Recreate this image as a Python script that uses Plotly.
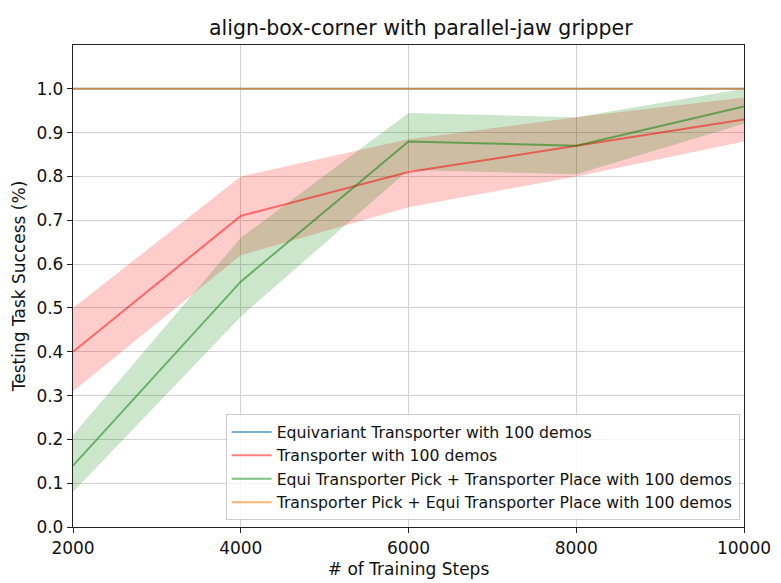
import plotly.graph_objects as go

steps = [2000, 4000, 6000, 8000, 10000]

equi_mean = [1.0, 1.0, 1.0, 1.0, 1.0]
equi_lo = [1.0, 1.0, 1.0, 1.0, 1.0]
equi_hi = [1.0, 1.0, 1.0, 1.0, 1.0]

trans_mean = [0.40, 0.71, 0.81, 0.87, 0.93]
trans_lo = [0.31, 0.62, 0.73, 0.80, 0.88]
trans_hi = [0.50, 0.80, 0.885, 0.935, 0.98]

epick_mean = [0.14, 0.56, 0.88, 0.87, 0.96]
epick_lo = [0.08, 0.48, 0.815, 0.805, 0.92]
epick_hi = [0.21, 0.66, 0.945, 0.935, 1.0]

eplace_mean = [1.0, 1.0, 1.0, 1.0, 1.0]
eplace_lo = [1.0, 1.0, 1.0, 1.0, 1.0]
eplace_hi = [1.0, 1.0, 1.0, 1.0, 1.0]

series = [
    ("Equivariant Transporter with 100 demos", equi_mean, equi_lo, equi_hi,
     "rgba(31,119,180,0.6)", "rgba(31,119,180,0.2)"),
    ("Transporter with 100 demos", trans_mean, trans_lo, trans_hi,
     "rgba(255,0,0,0.5)", "rgba(255,0,0,0.2)"),
    ("Equi Transporter Pick + Transporter Place with 100 demos", epick_mean, epick_lo, epick_hi,
     "rgba(0,128,0,0.5)", "rgba(0,128,0,0.2)"),
    ("Transporter Pick + Equi Transporter Place with 100 demos", eplace_mean, eplace_lo, eplace_hi,
     "rgba(255,127,14,0.6)", "rgba(255,127,14,0.2)"),
]

fig = go.Figure()
for name, m, lo, hi, lc, fc in series:
    fig.add_trace(go.Scatter(x=steps + steps[::-1], y=hi + lo[::-1], fill="toself",
                             fillcolor=fc, line=dict(width=0), mode="lines",
                             showlegend=False, hoverinfo="skip"))
for name, m, lo, hi, lc, fc in series:
    fig.add_trace(go.Scatter(x=steps, y=m, mode="lines", name=name,
                             line=dict(color=lc, width=2)))

font = "DejaVu Sans"
fig.update_layout(
    width=781, height=583,
    margin=dict(l=65, r=45, t=37, b=64),
    paper_bgcolor="white", plot_bgcolor="white",
    font=dict(family=font, size=17, color="#111"),
    title=dict(text="align-box-corner with parallel-jaw gripper", x=0.5285, xanchor="center",
               y=0.966, yanchor="middle", font=dict(family=font, size=20.5, color="#111")),
    legend=dict(x=0.9935, y=0.014, xanchor="right", yanchor="bottom",
                bgcolor="rgba(255,255,255,0.8)", bordercolor="#cccccc", borderwidth=1,
                font=dict(family=font, size=15.7, color="#111"), tracegroupgap=0,
                itemwidth=40),
    showlegend=True,
)
fig.update_xaxes(range=[2000, 10000], tickvals=[2000, 4000, 6000, 8000, 10000],
                 ticktext=["2000", "4000", "6000", "8000", "10000"],
                 showgrid=True, gridcolor="#d3d3d3", gridwidth=1,
                 showline=True, linecolor="#222", linewidth=1.3, mirror=True,
                 ticks="outside", ticklen=5, tickcolor="#222", zeroline=False,
                 title=dict(text="# of Training Steps", font=dict(family=font, size=17), standoff=6))
fig.update_yaxes(range=[0, 1.1], tickvals=[0, 0.1, 0.2, 0.3, 0.4, 0.5, 0.6, 0.7, 0.8, 0.9, 1.0],
                 ticktext=["0.0", "0.1", "0.2", "0.3", "0.4", "0.5", "0.6", "0.7", "0.8", "0.9", "1.0"],
                 showgrid=True, gridcolor="#d3d3d3", gridwidth=1,
                 showline=True, linecolor="#222", linewidth=1.3, mirror=True,
                 ticks="outside", ticklen=5, tickcolor="#222", zeroline=False,
                 title=dict(text="Testing Task Success (%)", font=dict(family=font, size=17), standoff=6))

fig.write_html("out.html")
